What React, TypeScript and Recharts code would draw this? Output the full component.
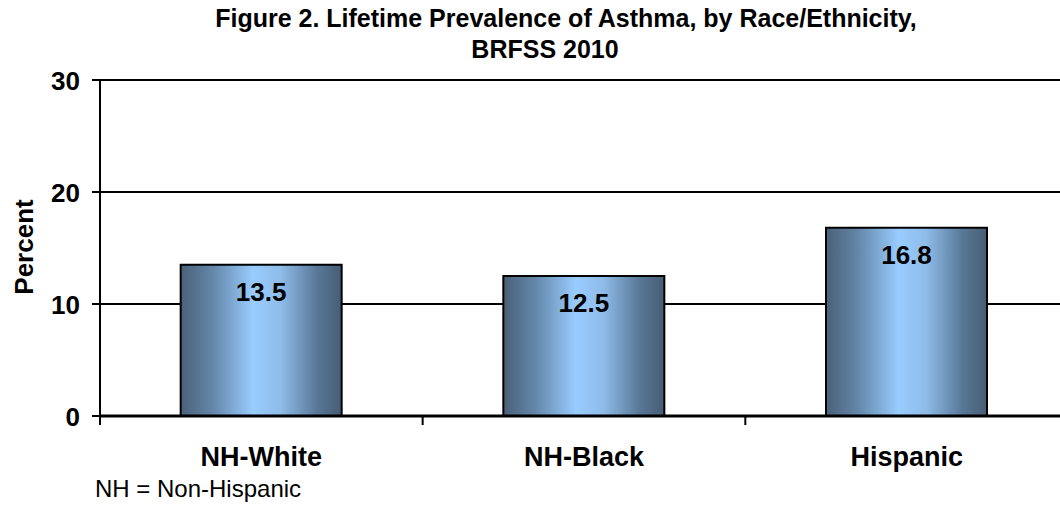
import { Bar, BarChart, CartesianGrid, LabelList, XAxis, YAxis } from "recharts"

const groups = ["NH-White", "NH-Black", "Hispanic"]
const prevalence = [13.5, 12.5, 16.8]
const yTicks = [0, 10, 20, 30]

const data = groups.map((name, i) => ({ name, percent: prevalence[i] }))

const FONT = "'Liberation Sans', Arial, sans-serif"

const CategoryTick = (props: any) => {
  const { x, y, payload } = props
  const half = 322.7 / 2
  return (
    <g>
      <line x1={x - half} x2={x - half} y1={y - 8} y2={y + 1} stroke="#000" strokeWidth={2} />
      <text x={x} y={y + 42} textAnchor="middle" fontFamily={FONT} fontWeight="bold" fontSize={27} fill="#000">
        {payload.value}
      </text>
    </g>
  )
}

export default function App() {
  return (
    <div style={{ position: "absolute", left: 0, top: 0, width: 1060, height: 508, overflow: "hidden", background: "#fff" }}>
      <svg width={1060} height={70} style={{ position: "absolute", left: 0, top: 0 }}>
        <text x={566} y={27} textAnchor="middle" fontFamily={FONT} fontWeight="bold" fontSize={25} fill="#000">
          Figure 2. Lifetime Prevalence of Asthma, by Race/Ethnicity,
        </text>
        <text x={545} y={58} textAnchor="middle" fontFamily={FONT} fontWeight="bold" fontSize={25} fill="#000">
          BRFSS 2010
        </text>
      </svg>
      <div style={{ position: "absolute", left: 0, top: 0 }}>
        <BarChart width={1068} height={508} data={data} margin={{ top: 80, right: 0, bottom: 0, left: 0 }} barCategoryGap="25%">
          <defs>
            <linearGradient id="barGrad" x1="0" y1="0" x2="1" y2="0">
              <stop offset="0%" stopColor="#4a6079" />
              <stop offset="20%" stopColor="#6487a9" />
              <stop offset="45%" stopColor="#99ccff" />
              <stop offset="62%" stopColor="#8fbce9" />
              <stop offset="85%" stopColor="#587796" />
              <stop offset="100%" stopColor="#485c74" />
            </linearGradient>
          </defs>
          <CartesianGrid horizontal vertical={false} stroke="#000" strokeWidth={2} />
          <XAxis
            dataKey="name"
            height={92}
            axisLine={{ stroke: "#000", strokeWidth: 3 }}
            tickLine={false}
            tick={<CategoryTick />}
            interval={0}
          />
          <YAxis
            width={100}
            domain={[0, 30]}
            ticks={yTicks}
            axisLine={{ stroke: "#000", strokeWidth: 2 }}
            tickLine={{ stroke: "#000", strokeWidth: 2 }}
            tickSize={8}
            tick={{ fontFamily: FONT, fontWeight: "bold", fontSize: 26, fill: "#000", dy: 1 }}
            tickMargin={12}
          />
          <Bar dataKey="percent" fill="url(#barGrad)" stroke="#000" strokeWidth={2} isAnimationActive={false}>
            <LabelList
              dataKey="percent"
              position="insideTop"
              offset={18}
              formatter={(v: any) => Number(v).toFixed(1)}
              style={{ fontFamily: FONT, fontWeight: "bold", fontSize: 26, fill: "#000" }}
            />
          </Bar>
        </BarChart>
      </div>
      <svg width={60} height={508} style={{ position: "absolute", left: 0, top: 0 }}>
        <text
          x={33}
          y={247}
          transform="rotate(-90 33 247)"
          textAnchor="middle"
          fontFamily={FONT}
          fontWeight="bold"
          fontSize={26}
          fill="#000"
        >
          Percent
        </text>
      </svg>
      <svg width={400} height={48} style={{ position: "absolute", left: 0, top: 460 }}>
        <text x={95} y={37} fontFamily={FONT} fontSize={24} fill="#000">
          NH = Non-Hispanic
        </text>
      </svg>
    </div>
  )
}
